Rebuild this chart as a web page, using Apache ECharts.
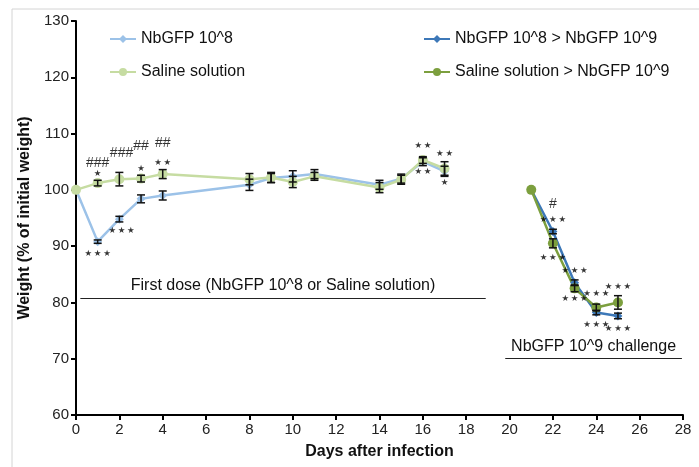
<!DOCTYPE html>
<html>
<head>
<meta charset="utf-8">
<script src="https://cdn.jsdelivr.net/npm/echarts@6/dist/echarts.min.js"></script>
<style>
  html, body {margin: 0; padding: 0; background: #fff;}
  #chart {width: 699px; height: 467px;}
</style>
</head>
<body>
<div id="chart"></div>
<script>
// first dose period
const days1 = [0, 1, 2, 3, 4, 8, 9, 10, 11, 14, 15, 16, 17];
const nbgfp8 = [100, 90.8, 94.8, 98.4, 99.0, 100.9, 102.1, 102.4, 102.8, 100.9, 102.0, 105.0, 103.3];
const nbgfp8Err = [0, 0.3, 0.5, 0.7, 0.8, 1.0, 0.8, 1.0, 0.8, 0.8, 0.8, 0.7, 0.9];
const saline = [100, 101.2, 101.9, 102.0, 102.8, 101.9, 102.2, 101.4, 102.4, 100.4, 101.8, 105.3, 103.8];
const salineErr = [0, 0.5, 1.2, 0.6, 0.8, 1.0, 0.9, 1.0, 0.7, 0.9, 0.8, 0.6, 1.2];

// challenge period
const days2 = [21, 22, 23, 24, 25];
const nbgfp8to9 = [100, 92.6, 83.5, 78.2, 77.6];
const nbgfp8to9Err = [0, 0.4, 0.5, 0.4, 0.5];
const salineTo9 = [100, 90.5, 82.5, 79.1, 80.0];
const salineTo9Err = [0, 0.8, 0.6, 0.6, 1.2];

const xTicks = {min: 0, max: 28, step: 2};
const yTicks = {min: 60, max: 130, step: 10};

// significance stars: [day, weight, count]
const stars = [
  [1, 102.9, 1], [1, 88.6, 3], [2.1, 92.8, 3], [3, 103.8, 1], [4, 104.8, 2],
  [16, 107.9, 2], [16, 103.2, 2], [17, 106.4, 2], [17, 101.3, 1],
  [22, 94.7, 3], [22, 88.0, 3], [23, 85.6, 3], [23, 80.6, 3],
  [24, 81.5, 3], [24, 76.0, 3], [25, 82.7, 3], [25, 75.3, 3]
];
// hash marks: [day, weight, text]
const hashes = [
  [1, 104.8, '###'], [2.1, 106.6, '###'], [3, 107.8, '##'], [4, 108.3, '##'], [22, 97.4, '#']
];

// period brackets: [from, to, level, text]
const periods = [
  [0.2, 18.9, 80.8, 'First dose (NbGFP 10^8 or Saline solution)'],
  [19.8, 27.95, 70.1, 'NbGFP 10^9 challenge']
];

const zip = (xs, ys) => xs.map((x, i) => [x, ys[i]]);
const zipErr = (xs, ys, es) => xs.map((x, i) => [x, ys[i], es[i]]);

const errorBars = (data) => ({
  type: 'custom',
  z: 5,
  silent: true,
  data: data,
  renderItem: (params, api) => {
    const x = api.value(0), y = api.value(1), e = api.value(2);
    if (!e) return null;
    const top = api.coord([x, y + e]);
    const bot = api.coord([x, y - e]);
    const w = 4;
    const style = {stroke: '#111', lineWidth: 1.5};
    return {
      type: 'group',
      children: [
        {type: 'line', shape: {x1: top[0], y1: top[1], x2: bot[0], y2: bot[1]}, style},
        {type: 'line', shape: {x1: top[0] - w, y1: top[1], x2: top[0] + w, y2: top[1]}, style},
        {type: 'line', shape: {x1: bot[0] - w, y1: bot[1], x2: bot[0] + w, y2: bot[1]}, style}
      ]
    };
  }
});

const lineSeries = (name, data, color, symbol) => ({
  name: name,
  type: 'line',
  data: data,
  symbol: symbol,
  symbolSize: symbol === 'circle' ? 10 : 9,
  showSymbol: true,
  lineStyle: {color: color, width: 2.5},
  itemStyle: {color: color},
  z: 3
});

const textMarks = (data, formatter, fontSize, fontFamily) => ({
  type: 'scatter',
  silent: true,
  symbolSize: 0,
  z: 6,
  data: data,
  label: {
    show: true,
    position: 'inside',
    formatter: formatter,
    fontSize: fontSize,
    color: '#000',
    fontFamily: fontFamily
  }
});

const chart = echarts.init(document.getElementById('chart'));
const font = 'Liberation Sans, Arial, sans-serif';

const option = {
  animation: false,
  textStyle: {fontFamily: font},
  graphic: [{
    type: 'rect',
    shape: {x: 12, y: 9, width: 700, height: 470},
    style: {fill: 'none', stroke: '#d4d4d4', lineWidth: 1},
    silent: true
  }],
  grid: {left: 76, right: 16, top: 21, bottom: 52},
  legend: [
    {
      left: 104, top: 26, orient: 'vertical', itemGap: 17,
      itemWidth: 26, itemHeight: 10,
      textStyle: {fontSize: 16, color: '#111', fontFamily: font},
      data: ['NbGFP 10^8', 'Saline solution']
    },
    {
      left: 418, top: 26, orient: 'vertical', itemGap: 17,
      itemWidth: 26, itemHeight: 10,
      textStyle: {fontSize: 16, color: '#111', fontFamily: font},
      data: ['NbGFP 10^8 > NbGFP 10^9', 'Saline solution > NbGFP 10^9']
    }
  ],
  xAxis: {
    type: 'value',
    min: xTicks.min, max: xTicks.max, interval: xTicks.step,
    name: 'Days after infection',
    nameLocation: 'middle', nameGap: 29,
    nameTextStyle: {fontSize: 16, fontWeight: 'bold', color: '#111', fontFamily: font},
    axisLine: {lineStyle: {color: '#000', width: 2}},
    axisTick: {show: true, length: 5, lineStyle: {color: '#000', width: 2}},
    axisLabel: {fontSize: 15, color: '#222', margin: 7, fontFamily: font},
    splitLine: {show: false}
  },
  yAxis: {
    type: 'value',
    min: yTicks.min, max: yTicks.max, interval: yTicks.step,
    name: 'Weight (% of initial weight)',
    nameLocation: 'middle', nameGap: 43,
    nameTextStyle: {fontSize: 16, fontWeight: 'bold', color: '#111', fontFamily: font},
    axisLine: {show: true, lineStyle: {color: '#000', width: 2}},
    axisTick: {show: true, length: 5, lineStyle: {color: '#000', width: 2}},
    axisLabel: {fontSize: 15, color: '#222', margin: 7, fontFamily: font},
    splitLine: {show: false}
  },
  series: [
    lineSeries('NbGFP 10^8', zip(days1, nbgfp8), '#9cc2e8', 'diamond'),
    lineSeries('Saline solution', zip(days1, saline), '#c6dca2', 'circle'),
    lineSeries('NbGFP 10^8 > NbGFP 10^9', zip(days2, nbgfp8to9), '#3d78b8', 'diamond'),
    lineSeries('Saline solution > NbGFP 10^9', zip(days2, salineTo9), '#7c9f3e', 'circle'),
    errorBars(zipErr(days1, nbgfp8, nbgfp8Err)),
    errorBars(zipErr(days1, saline, salineErr)),
    errorBars(zipErr(days2, nbgfp8to9, nbgfp8to9Err)),
    errorBars(zipErr(days2, salineTo9, salineTo9Err)),
    textMarks(stars, (p) => Array(p.value[2]).fill('★').join('\u2009'), 8.5, 'DejaVu Sans'),
    Object.assign(textMarks(hashes, (p) => p.value[2], 14, font), {
      markLine: {
        silent: true,
        symbol: 'none',
        lineStyle: {color: '#222', width: 1.2, type: 'solid'},
        label: {
          show: true,
          position: 'middle',
          distance: 4,
          fontSize: 16,
          color: '#111',
          fontFamily: font
        },
        data: periods.map(p => [
          {coord: [p[0], p[2]], label: {formatter: p[3]}},
          {coord: [p[1], p[2]]}
        ])
      }
    })
  ]
};

chart.setOption(option);
</script>
</body>
</html>
